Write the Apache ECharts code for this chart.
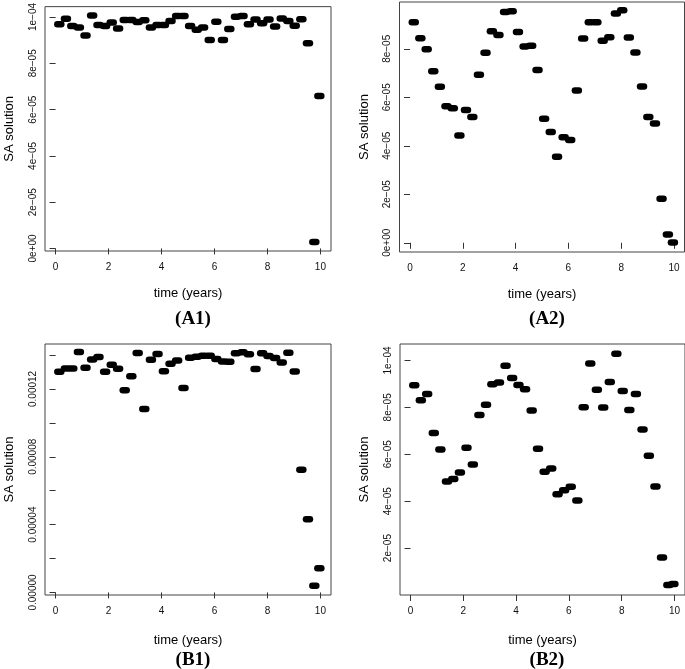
<!DOCTYPE html>
<html><head><meta charset="utf-8">
<script src="https://cdn.jsdelivr.net/npm/echarts@6/dist/echarts.min.js"></script>
<style>html,body{margin:0;padding:0;background:#fff}#c{width:685px;height:669px}</style>
</head><body><div id="c"></div>
<script>
// time points (years) of each piece
const time = [0.14,0.39,0.63,0.88,1.13,1.38,1.62,1.87,2.12,2.36,2.61,2.86,3.10,3.35,3.60,3.85,4.09,4.34,4.59,4.83,5.08,5.33,5.57,5.82,6.07,6.32,6.56,6.81,7.06,7.30,7.55,7.80,8.04,8.29,8.54,8.79,9.03,9.28,9.53,9.77,9.96];
// SA solutions
const solA1 = [9.69e-5,9.93e-5,9.61e-5,9.55e-5,9.20e-5,10.07e-5,9.66e-5,9.61e-5,9.76e-5,9.51e-5,9.87e-5,9.87e-5,9.79e-5,9.86e-5,9.55e-5,9.66e-5,9.66e-5,9.83e-5,10.04e-5,10.04e-5,9.61e-5,9.45e-5,9.55e-5,9.01e-5,9.80e-5,9.01e-5,9.48e-5,10.01e-5,10.04e-5,9.69e-5,9.89e-5,9.73e-5,9.89e-5,9.59e-5,9.94e-5,9.83e-5,9.62e-5,9.90e-5,8.87e-5,0.28e-5,6.59e-5];
const solA2 = [9.10e-5,8.44e-5,7.98e-5,7.07e-5,6.43e-5,5.63e-5,5.55e-5,4.42e-5,5.48e-5,5.19e-5,6.93e-5,7.84e-5,8.72e-5,8.57e-5,9.52e-5,9.55e-5,8.69e-5,8.09e-5,8.13e-5,7.13e-5,5.12e-5,4.57e-5,3.55e-5,4.35e-5,4.24e-5,6.28e-5,8.42e-5,9.10e-5,9.10e-5,8.33e-5,8.48e-5,9.46e-5,9.59e-5,8.47e-5,7.85e-5,6.45e-5,5.19e-5,4.92e-5,1.82e-5,0.34e-5,0.01e-5];
const solB1 = [13.01e-5,13.21e-5,13.21e-5,14.18e-5,13.25e-5,13.74e-5,13.88e-5,13.01e-5,13.43e-5,13.19e-5,11.92e-5,12.75e-5,14.12e-5,10.81e-5,13.72e-5,14.06e-5,13.05e-5,13.49e-5,13.68e-5,12.06e-5,13.84e-5,13.90e-5,13.96e-5,13.96e-5,13.76e-5,13.62e-5,13.60e-5,14.10e-5,14.16e-5,14.04e-5,13.17e-5,14.10e-5,13.94e-5,13.82e-5,13.56e-5,14.14e-5,13.03e-5,7.23e-5,4.32e-5,0.40e-5,1.43e-5];
const solB2 = [8.94e-5,8.30e-5,8.57e-5,6.91e-5,6.20e-5,4.84e-5,4.94e-5,5.22e-5,6.28e-5,5.56e-5,7.67e-5,8.11e-5,8.98e-5,9.06e-5,9.77e-5,9.25e-5,8.95e-5,8.77e-5,7.86e-5,6.23e-5,5.25e-5,5.39e-5,4.30e-5,4.47e-5,4.61e-5,4.03e-5,8.00e-5,9.87e-5,8.75e-5,7.99e-5,9.08e-5,10.28e-5,8.70e-5,7.89e-5,8.57e-5,7.05e-5,5.94e-5,4.62e-5,1.60e-5,0.43e-5,0.47e-5];
// axis ticks and labels
const xTicks = [0,2,4,6,8,10];
const yTicksA1 = [0,0.00002,0.00004,0.00006,0.00008,0.0001];
const yLabelsA1 = ['0e+00','2e\u221205','4e\u221205','6e\u221205','8e\u221205','1e\u221204'];
const yTicksA2 = [0,0.00002,0.00004,0.00006,0.00008];
const yLabelsA2 = ['0e+00','2e\u221205','4e\u221205','6e\u221205','8e\u221205'];
const yTicksB1 = [0,0.00002,0.00004,0.00006,0.00008,0.0001,0.00012,0.00014];
const yLabelValsB1 = [0,0.00004,0.00008,0.00012];
const yLabelsB1 = ['0.00000','0.00004','0.00008','0.00012'];
const yTicksB2 = [0.00002,0.00004,0.00006,0.00008,0.0001];
const yLabelsB2 = ['2e\u221205','4e\u221205','6e\u221205','8e\u221205','1e\u221204'];
const panelTitles = ['(A1)','(A2)','(B1)','(B2)'];
const xName = 'time (years)';
const yName = 'SA solution';

const HALF = 0.075;
const FONT = '"Liberation Sans", Arial, sans-serif';
const panels = [
  {sol: solA1, grid:{left:45, top:2, width:286, height:249}, ymin:-0.11e-5, ymax:10.45e-5, ticks:yTicksA1, labVals:yTicksA1, labs:yLabelsA1, title:[188,305], xGap:36},
  {sol: solA2, grid:{left:399.5, top:2, width:285, height:250}, ymin:-0.38e-5, ymax:9.93e-5, ticks:yTicksA2, labVals:yTicksA2, labs:yLabelsA2, title:[542,305], xGap:36},
  {sol: solB1, grid:{left:45, top:344, width:286, height:251}, ymin:-0.15e-5, ymax:14.65e-5, ticks:yTicksB1, labVals:yLabelValsB1, labs:yLabelsB1, title:[188,646], xGap:39},
  {sol: solB2, grid:{left:400, top:344, width:285, height:251}, ymin:0, ymax:10.7e-5, ticks:yTicksB2, labVals:yTicksB2, labs:yLabelsB2, title:[542,646], xGap:39}
];

const option = {animation:false, backgroundColor:'#fff', grid:[], xAxis:[], yAxis:[], series:[], title:[]};
panels.forEach((p, i) => {
  option.grid.push(Object.assign({show:true, borderColor:'#444', borderWidth:1, backgroundColor:'transparent', containLabel:false}, p.grid));
  option.xAxis.push({
    type:'value', gridIndex:i, min:-0.4, max:10.4,
    name:xName, nameLocation:'middle', nameGap:p.xGap,
    nameTextStyle:{fontFamily:FONT, fontSize:13, color:'#000'},
    axisLine:{show:false}, splitLine:{show:false},
    axisTick:{show:true, length:6, inside:false, customValues:xTicks, lineStyle:{color:'#333'}},
    axisLabel:{fontFamily:FONT, fontSize:10, color:'#111', margin:11, customValues:xTicks}
  });
  option.yAxis.push({
    type:'value', gridIndex:i, min:p.ymin, max:p.ymax,
    name:yName, nameLocation:'middle', nameGap:29, nameRotate:90,
    nameTextStyle:{fontFamily:FONT, fontSize:13, color:'#000'},
    axisLine:{show:false}, splitLine:{show:false},
    axisTick:{show:true, length:6, customValues:p.ticks, lineStyle:{color:'#333'}},
    axisLabel:{fontFamily:FONT, fontSize:10, color:'#111', margin:7, rotate:90, customValues:p.labVals,
      formatter:(v)=>{let best=0; p.labVals.forEach((t,k)=>{if(Math.abs(t-v)<Math.abs(p.labVals[best]-v)) best=k;}); return p.labs[best];}}
  });
  option.series.push({
    type:'custom', xAxisIndex:i, yAxisIndex:i, coordinateSystem:'cartesian2d',
    data: time.map((t,k)=>[t, p.sol[k]]),
    encode:{x:0, y:1},
    renderItem:(params, api)=>{
      const t = api.value(0), v = api.value(1);
      const a = api.coord([t-HALF, v]), b = api.coord([t+HALF, v]);
      return {type:'line', shape:{x1:a[0], y1:a[1], x2:b[0], y2:b[1]}, style:{stroke:'#000', lineWidth:6.5, lineCap:'round'}};
    }
  });
  option.title.push({text:panelTitles[i], left:p.title[0], top:p.title[1], textAlign:'center',
    textStyle:{fontFamily:'"Liberation Serif", "Times New Roman", serif', fontWeight:'bold', fontSize:19, color:'#000'}});
});
const chart = echarts.init(document.getElementById('c'), null, {renderer:'canvas'});
chart.setOption(option);
</script></body></html>
